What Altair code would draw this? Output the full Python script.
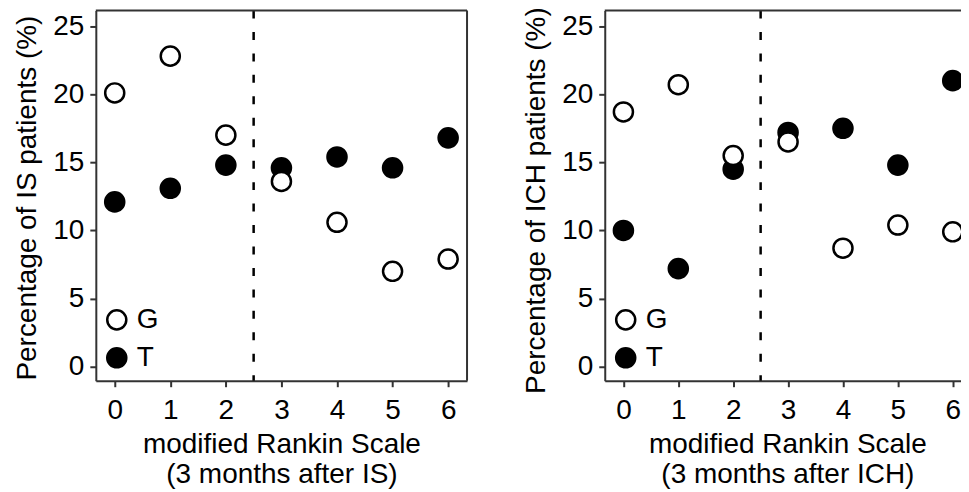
import altair as alt
import pandas as pd

mrs = [0, 1, 2, 3, 4, 5, 6]
is_G = [20.1, 22.8, 17.0, 13.6, 10.6, 7.0, 7.9]
is_T = [12.1, 13.1, 14.8, 14.6, 15.4, 14.6, 16.8]
ich_G = [18.7, 20.7, 15.5, 16.5, 8.7, 10.4, 9.9]
ich_T = [10.0, 7.2, 14.5, 17.2, 17.5, 14.8, 21.0]
alleles = ["G", "T"]
y_ticks = [0, 5, 10, 15, 20, 25]
divider = [2.5]

FONT = "Liberation Sans"
FRAME = "#333333"
Y_DOM = [-1.03, 26.15]


def long_df(g, t):
    rows = []
    for x, v in zip(mrs, t):
        rows.append({"mrs": x, "pct": v, "allele": "T"})
    for x, v in zip(mrs, g):
        rows.append({"mrs": x, "pct": v, "allele": "G"})
    return pd.DataFrame(rows)


def panel(g, t, ylab, xtitle, width, xmax, right_border, title_y):
    df = long_df(g, t)
    xscale = alt.Scale(domain=[-0.34, xmax], nice=False, zero=False)
    yscale = alt.Scale(domain=Y_DOM, nice=False, zero=False)
    xaxis = alt.Axis(values=mrs, title=xtitle, format="d")
    yaxis = alt.Axis(values=y_ticks, title=ylab, format="d", titleY=title_y)

    pts = alt.Chart(df).mark_point(
        shape="circle", size=365, stroke="black", strokeWidth=2.5, opacity=1
    ).encode(
        x=alt.X("mrs:Q", scale=xscale, axis=xaxis),
        y=alt.Y("pct:Q", scale=yscale, axis=yaxis),
        fill=alt.Fill(
            "allele:N",
            scale=alt.Scale(domain=alleles, range=["white", "black"]),
            legend=alt.Legend(
                title=None, orient="none", legendX=7, legendY=296,
                symbolType="circle", symbolSize=365, symbolStrokeColor="black",
                symbolStrokeWidth=2.5, symbolOpacity=1, labelFontSize=28,
                labelFont=FONT, labelColor="black", labelOffset=6,
                rowPadding=8, padding=0,
            ),
        ),
        order=alt.Order("allele:N", sort="descending"),
    )

    dash = alt.Chart(pd.DataFrame({"d": divider})).mark_rule(
        color="black", strokeWidth=2.5, strokeDash=[8, 13.5]
    ).encode(x=alt.X("d:Q", scale=xscale))

    top = alt.Chart(pd.DataFrame({"d": [Y_DOM[1]]})).mark_rule(
        color=FRAME, strokeWidth=2
    ).encode(y=alt.Y("d:Q", scale=yscale))

    layers = [dash, top]
    if right_border:
        rb = alt.Chart(pd.DataFrame({"d": [xmax]})).mark_rule(
            color=FRAME, strokeWidth=2
        ).encode(x=alt.X("d:Q", scale=xscale))
        layers.append(rb)
    layers.append(pts)
    return alt.layer(*layers).properties(width=width, height=371)


left = panel(is_G, is_T, "Percentage of IS patients (%)",
             ["modified Rankin Scale", "(3 months after IS)"], 372, 6.34, True, 187.5)
right = panel(ich_G, ich_T, "Percentage of ICH patients (%)",
              ["modified Rankin Scale", "(3 months after ICH)"], 366, 6.314, False, 190)

chart = alt.hconcat(left, right, spacing=54).resolve_legend(
    fill="independent"
).properties(
    padding={"left": 5, "top": -2, "right": -10, "bottom": 0}
).configure_view(strokeWidth=0).configure_axis(
    grid=False,
    domainColor=FRAME, domainWidth=2,
    tickColor=FRAME, tickWidth=2, tickSize=6,
    labelFont=FONT, labelFontSize=28, labelColor="black",
    titleFont=FONT, titleFontSize=28, titleFontWeight="normal", titleColor="black",
).configure_axisX(
    labelPadding=10, titlePadding=6, titleLineHeight=30,
).configure_axisY(
    labelPadding=6, titlePadding=11,
)

chart.save("out.html", embed_options={"renderer": "svg", "actions": False})
